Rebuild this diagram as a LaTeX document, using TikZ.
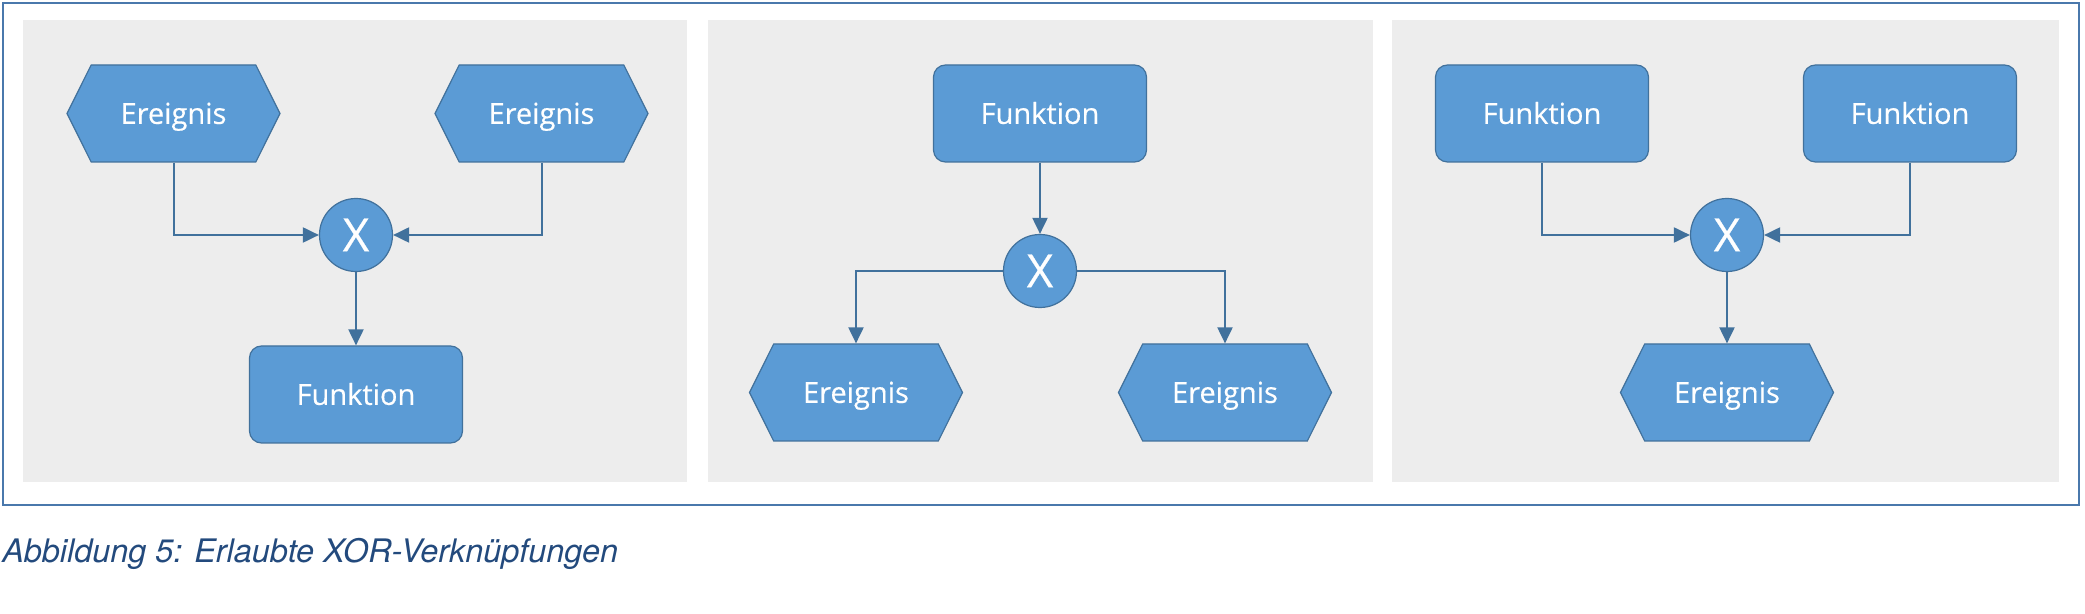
\documentclass[tikz,border=0pt]{standalone}
\usepackage{fontspec}
\setmainfont{Open Sans}
\newfontfamily\nodefont[FakeBold=0.4]{Open Sans}
\newfontfamily\capfont{TeX Gyre Heros}
\usetikzlibrary{shapes.symbols,arrows.meta}
\definecolor{epkblue}{HTML}{5B9BD5}
\definecolor{epkline}{HTML}{41719C}
\definecolor{panelgray}{HTML}{EDEDED}
\definecolor{framecol}{HTML}{4A78AC}
\definecolor{capcol}{HTML}{234A7D}
\tikzset{
    event/.style={shape=signal, signal to=east and west, signal pointer angle=127,
        fill=epkblue, draw=epkline, line width=0.6pt, minimum width=106.5pt,
        minimum height=48.5pt, inner sep=0pt, text=white,
        text height=10.4pt, text depth=0pt,
        font=\nodefont\fontsize{14.5}{16}\selectfont},
    func/.style={rectangle, rounded corners=6pt, fill=epkblue, draw=epkline,
        line width=0.6pt, minimum width=106.5pt, minimum height=48.5pt,
        inner sep=0pt, text=white, text height=10.4pt, text depth=0pt,
        font=\nodefont\fontsize{14.5}{16}\selectfont},
    xor/.style={circle, fill=epkblue, draw=epkline, line width=0.6pt,
        minimum size=36.5pt, inner sep=0pt, text=white,
        text height=16.4pt, text depth=0pt,
        font=\nodefont\fontsize{23}{24}\selectfont},
    flow/.style={draw=epkline, line width=1pt, -{Triangle[length=8pt,width=7.5pt]}},
}
\begin{document}
\begin{tikzpicture}[x=0.5pt,y=-0.5pt]
    \useasboundingbox (0,0) rectangle (2085,614);

    %Frame and panels
    \draw[framecol, line width=1pt] (3,3) rectangle (2079,505);
    \fill[panelgray] (23,20) rectangle (687,482);
    \fill[panelgray] (708,20) rectangle (1373,482);
    \fill[panelgray] (1392,20) rectangle (2059,482);

    %Panel 1
    \node[event] (e11) at (173.5,113.5) {Ereignis};
    \node[event] (e12) at (541.5,113.5) {Ereignis};
    \node[xor] (x1) at (356,235) {X};
    \node[func] (f1) at (356,394.5) {Funktion};
    \draw[flow] (e11.south) |- (x1.west);
    \draw[flow] (e12.south) |- (x1.east);
    \draw[flow] (x1.south) -- (f1.north);

    %Panel 2
    \node[func] (f2) at (1040,113.5) {Funktion};
    \node[xor] (x2) at (1040,271) {X};
    \node[event] (e21) at (856,392.5) {Ereignis};
    \node[event] (e22) at (1225,392.5) {Ereignis};
    \draw[flow] (f2.south) -- (x2.north);
    \draw[flow] (x2.west) -| (e21.north);
    \draw[flow] (x2.east) -| (e22.north);

    %Panel 3
    \node[func] (f31) at (1542,113.5) {Funktion};
    \node[func] (f32) at (1910,113.5) {Funktion};
    \node[xor] (x3) at (1727,235) {X};
    \node[event] (e3) at (1727,392.5) {Ereignis};
    \draw[flow] (f31.south) |- (x3.west);
    \draw[flow] (f32.south) |- (x3.east);
    \draw[flow] (x3.south) -- (e3.north);

    %Caption
    \node[anchor=base west, inner sep=0pt, text=capcol,
        font=\capfont\itshape\fontsize{16.2}{18}\selectfont] (cap) at (2,563)
        {Abbildung 5: Erlaubte XOR-Verknüpfungen};
\end{tikzpicture}
\end{document}
